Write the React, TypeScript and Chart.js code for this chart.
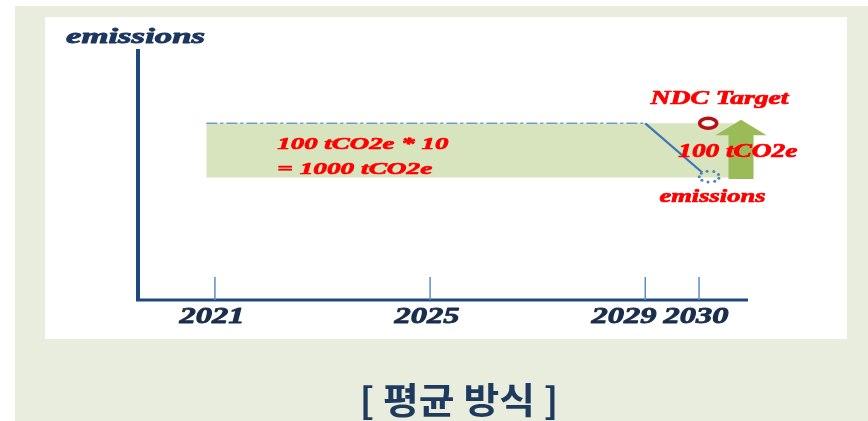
import React, { useEffect, useRef } from "react";
import { Chart, registerables } from "chart.js";

Chart.register(...registerables);

// ---- data ----
const xRange = [2019.57, 2030.91];
const yRange = [0, 250];
const tickYears = [2021, 2025, 2029, 2030];
const tickLabels = ["2021", "2025", "2029", "2030"];
const bandYears = [2020.84, 2030.78];
const bandTop = [176, 176];
const bandBottom = [122, 122];
const baselineYears = [2020.84, 2029];
const baselineValues = [176, 176];
const declineYears = [2029, 2030.06];
const declineValues = [176, 127];
const ndcTargetYear = [2030.17];
const ndcTargetValue = [176];
const emission2030Year = [2030.19];
const emission2030Value = [123];
const arrowYear = [2030.78];
const arrowFrom = [120.5];
const arrowTo = [179.5];
const axisTitle = "emissions";
const bandText = ["100 tCO2e * 10", "= 1000 tCO2e"];
const ndcText = "NDC Target";
const gapText = "100 tCO2e";
const emissionText = "emissions";
const titleText = "[ 평균 방식 ]";

const SERIF = '"Liberation Serif", "Times New Roman", serif';

function fitText(
  ctx: CanvasRenderingContext2D,
  text: string,
  x: number,
  y: number,
  font: string,
  width: number,
  color: string,
  align: CanvasTextAlign,
  thicken = 0.7
) {
  ctx.save();
  ctx.font = font;
  const w = ctx.measureText(text).width || 1;
  ctx.translate(x, y);
  ctx.scale(width / w, 1);
  ctx.textAlign = align;
  ctx.textBaseline = "middle";
  ctx.fillStyle = color;
  ctx.fillText(text, 0, 0);
  if (thicken > 0) {
    ctx.strokeStyle = color;
    ctx.lineWidth = thicken;
    ctx.lineJoin = "round";
    ctx.strokeText(text, 0, 0);
  }
  ctx.restore();
}

const decorPlugin = {
  id: "decor",
  beforeDraw(chart: any) {
    const ctx = chart.ctx as CanvasRenderingContext2D;
    ctx.save();
    ctx.fillStyle = "#ffffff";
    ctx.fillRect(0, 0, chart.width, chart.height);
    ctx.fillStyle = "#E9EDDD";
    ctx.fillRect(15, 6, chart.width - 15, chart.height - 6);
    ctx.fillStyle = "#ffffff";
    ctx.fillRect(45, 17, 802, 322);
    ctx.restore();
  },
  afterDatasetsDraw(chart: any) {
    const ctx = chart.ctx as CanvasRenderingContext2D;
    const xs = chart.scales.x;
    const ys = chart.scales.y;
    ctx.save();

    // green arrow
    const ax = xs.getPixelForValue(arrowYear[0]);
    const yb = ys.getPixelForValue(arrowFrom[0]);
    const yt = ys.getPixelForValue(arrowTo[0]);
    const headLen = 15.5;
    ctx.fillStyle = "#9BBB59";
    ctx.beginPath();
    ctx.moveTo(ax - 12.5, yb);
    ctx.lineTo(ax - 12.5, yt + headLen);
    ctx.lineTo(ax - 25.5, yt + headLen);
    ctx.lineTo(ax, yt);
    ctx.lineTo(ax + 25.5, yt + headLen);
    ctx.lineTo(ax + 12.5, yt + headLen);
    ctx.lineTo(ax + 12.5, yb);
    ctx.closePath();
    ctx.fill();

    // NDC target ring
    const rx = xs.getPixelForValue(ndcTargetYear[0]);
    const ry = ys.getPixelForValue(ndcTargetValue[0]);
    ctx.beginPath();
    ctx.ellipse(rx, ry, 8.5, 5, 0, 0, Math.PI * 2);
    ctx.fillStyle = "#ffffff";
    ctx.fill();
    ctx.lineWidth = 3.5;
    ctx.strokeStyle = "#B80F14";
    ctx.stroke();

    // dotted emissions circle
    const dx = xs.getPixelForValue(emission2030Year[0]);
    const dy = ys.getPixelForValue(emission2030Value[0]);
    ctx.fillStyle = "#4F81BD";
    for (let i = 0; i < 9; i++) {
      const a = (i / 9) * Math.PI * 2 + 0.3;
      ctx.beginPath();
      ctx.arc(dx + Math.cos(a) * 10, dy + Math.sin(a) * 5.5, 1.5, 0, Math.PI * 2);
      ctx.fill();
    }

    // axes
    const x0 = xs.getPixelForValue(xRange[0]);
    const x1 = xs.getPixelForValue(xRange[1]);
    const y0 = ys.getPixelForValue(yRange[0]);
    const y1 = ys.getPixelForValue(yRange[1]);
    ctx.strokeStyle = "#1F497D";
    ctx.lineWidth = 4;
    ctx.beginPath();
    ctx.moveTo(x0, y1);
    ctx.lineTo(x0, y0 + 1);
    ctx.stroke();
    ctx.lineWidth = 3;
    ctx.beginPath();
    ctx.moveTo(x0 - 2, y0);
    ctx.lineTo(x1, y0);
    ctx.stroke();

    // tick marks
    ctx.strokeStyle = "#5F8DC6";
    ctx.lineWidth = 1.5;
    tickYears.forEach((yr) => {
      const px = xs.getPixelForValue(yr);
      ctx.beginPath();
      ctx.moveTo(px, y0 - 23);
      ctx.lineTo(px, y0);
      ctx.stroke();
    });

    // tick labels (resolve overlap by shifting left)
    const labelW = 65;
    const gap = 7;
    const centers = tickYears.map((yr) => xs.getPixelForValue(yr));
    for (let i = centers.length - 2; i >= 0; i--) {
      if (centers[i + 1] - centers[i] < labelW + gap) {
        centers[i] = centers[i + 1] - (labelW + gap);
      }
    }
    tickLabels.forEach((t, i) => {
      fitText(ctx, t, centers[i] - 3, y0 + 17, `italic bold 23px ${SERIF}`, labelW, "#1A2E4C", "center", 0.9);
    });

    // axis title
    fitText(ctx, axisTitle, x0 - 72, y1 - 12, `italic bold 22px ${SERIF}`, 139, "#1D3660", "left", 0.9);

    // annotations
    const red = "#FF0000";
    const f17 = `italic bold 17px ${SERIF}`;
    const f18 = `italic bold 18px ${SERIF}`;
    const bx = xs.getPixelForValue(2022.16);
    fitText(ctx, bandText[0], bx, ys.getPixelForValue(155), f17, 171, red, "left");
    fitText(ctx, bandText[1], bx, ys.getPixelForValue(129.5), f17, 155, red, "left");
    fitText(ctx, ndcText, xs.getPixelForValue(2030.38), ys.getPixelForValue(200), f18, 138, red, "center");
    fitText(ctx, gapText, xs.getPixelForValue(2030.72), ys.getPixelForValue(147), f18, 119, red, "center");
    fitText(ctx, emissionText, xs.getPixelForValue(2030.25), ys.getPixelForValue(102), f18, 106, red, "center");

    // caption
    fitText(ctx, titleText, 459, 400, `bold 36px "Noto Sans CJK KR", sans-serif`, 199, "#1F3A5F", "center", 0);

    ctx.restore();
  },
};

export default function App() {
  const ref = useRef<HTMLCanvasElement | null>(null);
  useEffect(() => {
    document.body.style.margin = "0";
    const canvas = ref.current!;
    const pts = (xsArr: number[], ysArr: number[]) => xsArr.map((x, i) => ({ x, y: ysArr[i] }));
    const chart = new Chart(canvas, {
      type: "line",
      data: {
        datasets: [
          {
            data: pts(bandYears, bandBottom),
            borderWidth: 0,
            pointRadius: 0,
            borderColor: "rgba(0,0,0,0)",
            fill: false,
            order: 5,
          },
          {
            data: pts(bandYears, bandTop),
            borderWidth: 0,
            pointRadius: 0,
            borderColor: "rgba(0,0,0,0)",
            backgroundColor: "#D7E4BD",
            fill: "-1",
            order: 4,
          },
          {
            data: pts(baselineYears, baselineValues),
            borderColor: "#6F9BD0",
            borderWidth: 1.5,
            borderDash: [11, 3, 3, 3],
            pointRadius: 0,
            fill: false,
            order: 1,
          },
          {
            data: pts(declineYears, declineValues),
            borderColor: "#3F74B6",
            borderWidth: 2.2,
            pointRadius: 0,
            fill: false,
            order: 0,
          },
        ],
      },
      options: {
        responsive: false,
        animation: false,
        devicePixelRatio: 1,
        layout: { padding: { left: 138, right: 120, top: 49, bottom: 121 } },
        plugins: { legend: { display: false }, tooltip: { enabled: false }, title: { display: false } },
        scales: {
          x: { type: "linear", min: xRange[0], max: xRange[1], display: false },
          y: { type: "linear", min: yRange[0], max: yRange[1], display: false },
        },
      },
      plugins: [decorPlugin],
    });
    return () => chart.destroy();
  }, []);
  return (
    <div style={{ position: "fixed", left: 0, top: 0, width: 868, height: 421 }}>
      <canvas ref={ref} width={868} height={421} style={{ display: "block" }} />
    </div>
  );
}
